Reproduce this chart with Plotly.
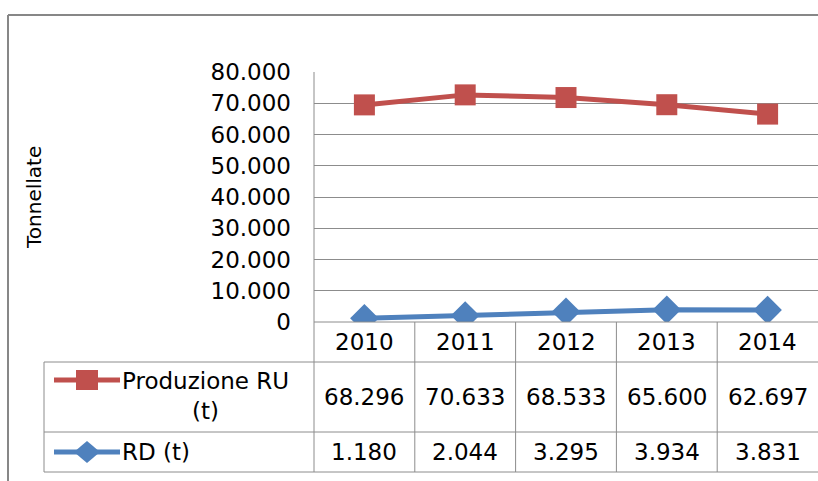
import plotly.graph_objects as go

# ---- data ----
years = ["2010", "2011", "2012", "2013", "2014"]
produzione_ru = [68296, 70633, 68533, 65600, 62697]
rd = [1180, 2044, 3295, 3934, 3831]
y_ticks = [0, 10000, 20000, 30000, 40000, 50000, 60000, 70000, 80000]
series_names = ["Produzione RU<br>(t)", "RD (t)"]

W, H = 818, 481
RED = "#C0504D"
BLUE = "#4F81BD"
GRID = "#8C8C8C"
FONT = "DejaVu Sans"
FS = 23


def px(x):
    return x / W


def py(y):
    return 1 - y / H


def fmt(v):
    return f"{v:,}".replace(",", ".")


x_idx = list(range(len(years)))

fig = go.Figure()
# stacked line chart: RD at bottom, Produzione RU stacked on top
fig.add_trace(go.Scatter(
    x=x_idx, y=rd, name="RD (t)", mode="lines+markers",
    stackgroup="one", fill="none",
    line=dict(color=BLUE, width=5),
    marker=dict(symbol="diamond", size=22, color=BLUE),
))
fig.add_trace(go.Scatter(
    x=x_idx, y=produzione_ru, name="Produzione RU (t)", mode="lines+markers",
    stackgroup="one", fill="none",
    line=dict(color=RED, width=5),
    marker=dict(symbol="square", size=21, color=RED),
))

plot_left, plot_right = 314, 818
y_top, y_zero = 72, 322
row1_top, row2_top, table_bottom = 362, 432, 472
table_left = 44

fig.update_layout(
    width=W, height=H,
    margin=dict(l=0, r=0, t=0, b=0, pad=0, autoexpand=False),
    paper_bgcolor="white", plot_bgcolor="white",
    showlegend=False,
    separators=",.",
    font=dict(family=FONT, size=FS, color="#000000"),
    xaxis=dict(domain=[px(plot_left), px(plot_right)], range=[-0.5, 4.5],
               showgrid=False, zeroline=False, showticklabels=False,
               showline=False, fixedrange=True, automargin=False),
    yaxis=dict(domain=[py(y_zero), py(y_top)], range=[0, 80000],
               tickvals=y_ticks, tickformat=",d",
               showgrid=True, gridcolor=GRID, gridwidth=1,
               zeroline=False, showline=False, ticks="",
               ticklabelstandoff=22, automargin=False,
               tickfont=dict(family=FONT, size=FS, color="#000000"),
               fixedrange=True),
)

shapes = []
line_style = dict(color=GRID, width=1)
# outer chart border (top and left)
shapes.append(dict(type="line", xref="paper", yref="paper",
                   x0=px(8), x1=px(W + 5), y0=py(15), y1=py(15),
                   line=dict(color="#878787", width=2)))
shapes.append(dict(type="line", xref="paper", yref="paper",
                   x0=px(8), x1=px(8), y0=py(15), y1=py(H + 5),
                   line=dict(color="#878787", width=2)))
# plot area left border down through table
shapes.append(dict(type="line", xref="paper", yref="paper",
                   x0=px(plot_left), x1=px(plot_left), y0=py(y_top), y1=py(table_bottom),
                   line=line_style))
# table vertical separators between years
for i in range(1, len(years)):
    shapes.append(dict(type="line", xref="x", yref="paper",
                       x0=i - 0.5, x1=i - 0.5, y0=py(y_zero), y1=py(table_bottom),
                       line=line_style))
# table horizontal lines
shapes.append(dict(type="line", xref="paper", yref="paper",
                   x0=px(plot_left), x1=px(W), y0=py(y_zero), y1=py(y_zero), line=line_style))
for yy in (row1_top, row2_top, table_bottom):
    shapes.append(dict(type="line", xref="paper", yref="paper",
                       x0=px(table_left), x1=px(W), y0=py(yy), y1=py(yy), line=line_style))
shapes.append(dict(type="line", xref="paper", yref="paper",
                   x0=px(table_left), x1=px(table_left), y0=py(row1_top), y1=py(table_bottom),
                   line=line_style))

# legend keys in the table
key_rows = [(RED, "square", 380), (BLUE, "diamond", 452)]
for color, sym, yy in key_rows:
    shapes.append(dict(type="line", xref="paper", yref="paper",
                       x0=px(54), x1=px(120), y0=py(yy), y1=py(yy),
                       line=dict(color=color, width=5)))
    cx = 87
    if sym == "square":
        shapes.append(dict(type="rect", xref="paper", yref="paper",
                           x0=px(cx - 11), x1=px(cx + 11), y0=py(yy - 10), y1=py(yy + 10),
                           fillcolor=color, line=dict(width=0)))
    else:
        path = (f"M {px(cx - 13)},{py(yy)} L {px(cx)},{py(yy - 11)} "
                f"L {px(cx + 13)},{py(yy)} L {px(cx)},{py(yy + 11)} Z")
        shapes.append(dict(type="path", xref="paper", yref="paper", path=path,
                           fillcolor=color, line=dict(width=0)))

annotations = []
# y axis title
annotations.append(dict(text="Tonnellate", xref="paper", yref="paper",
                        x=px(34), y=py(198), showarrow=False, textangle=-90,
                        font=dict(family=FONT, size=20, color="#000000"),
                        xanchor="center", yanchor="middle"))
# year header row
for i, yr in enumerate(years):
    annotations.append(dict(text=yr, xref="x", yref="paper", x=i, y=py(342),
                            showarrow=False, xanchor="center", yanchor="middle"))
# series names
annotations.append(dict(text=series_names[0], xref="paper", yref="paper",
                        x=px(120), y=py(396), showarrow=False, align="center",
                        xanchor="left", yanchor="middle"))
annotations.append(dict(text=series_names[1], xref="paper", yref="paper",
                        x=px(120), y=py(452), showarrow=False,
                        xanchor="left", yanchor="middle"))
# values
for i, v in enumerate(produzione_ru):
    annotations.append(dict(text=fmt(v), xref="x", yref="paper", x=i, y=py(397),
                            showarrow=False, xanchor="center", yanchor="middle"))
for i, v in enumerate(rd):
    annotations.append(dict(text=fmt(v), xref="x", yref="paper", x=i, y=py(452),
                            showarrow=False, xanchor="center", yanchor="middle"))

fig.update_layout(shapes=shapes, annotations=annotations)
fig.write_html("out.html",
               config={"displayModeBar": False},
               post_script="document.body.style.margin='0px';"
                           "document.body.style.padding='0px';")
